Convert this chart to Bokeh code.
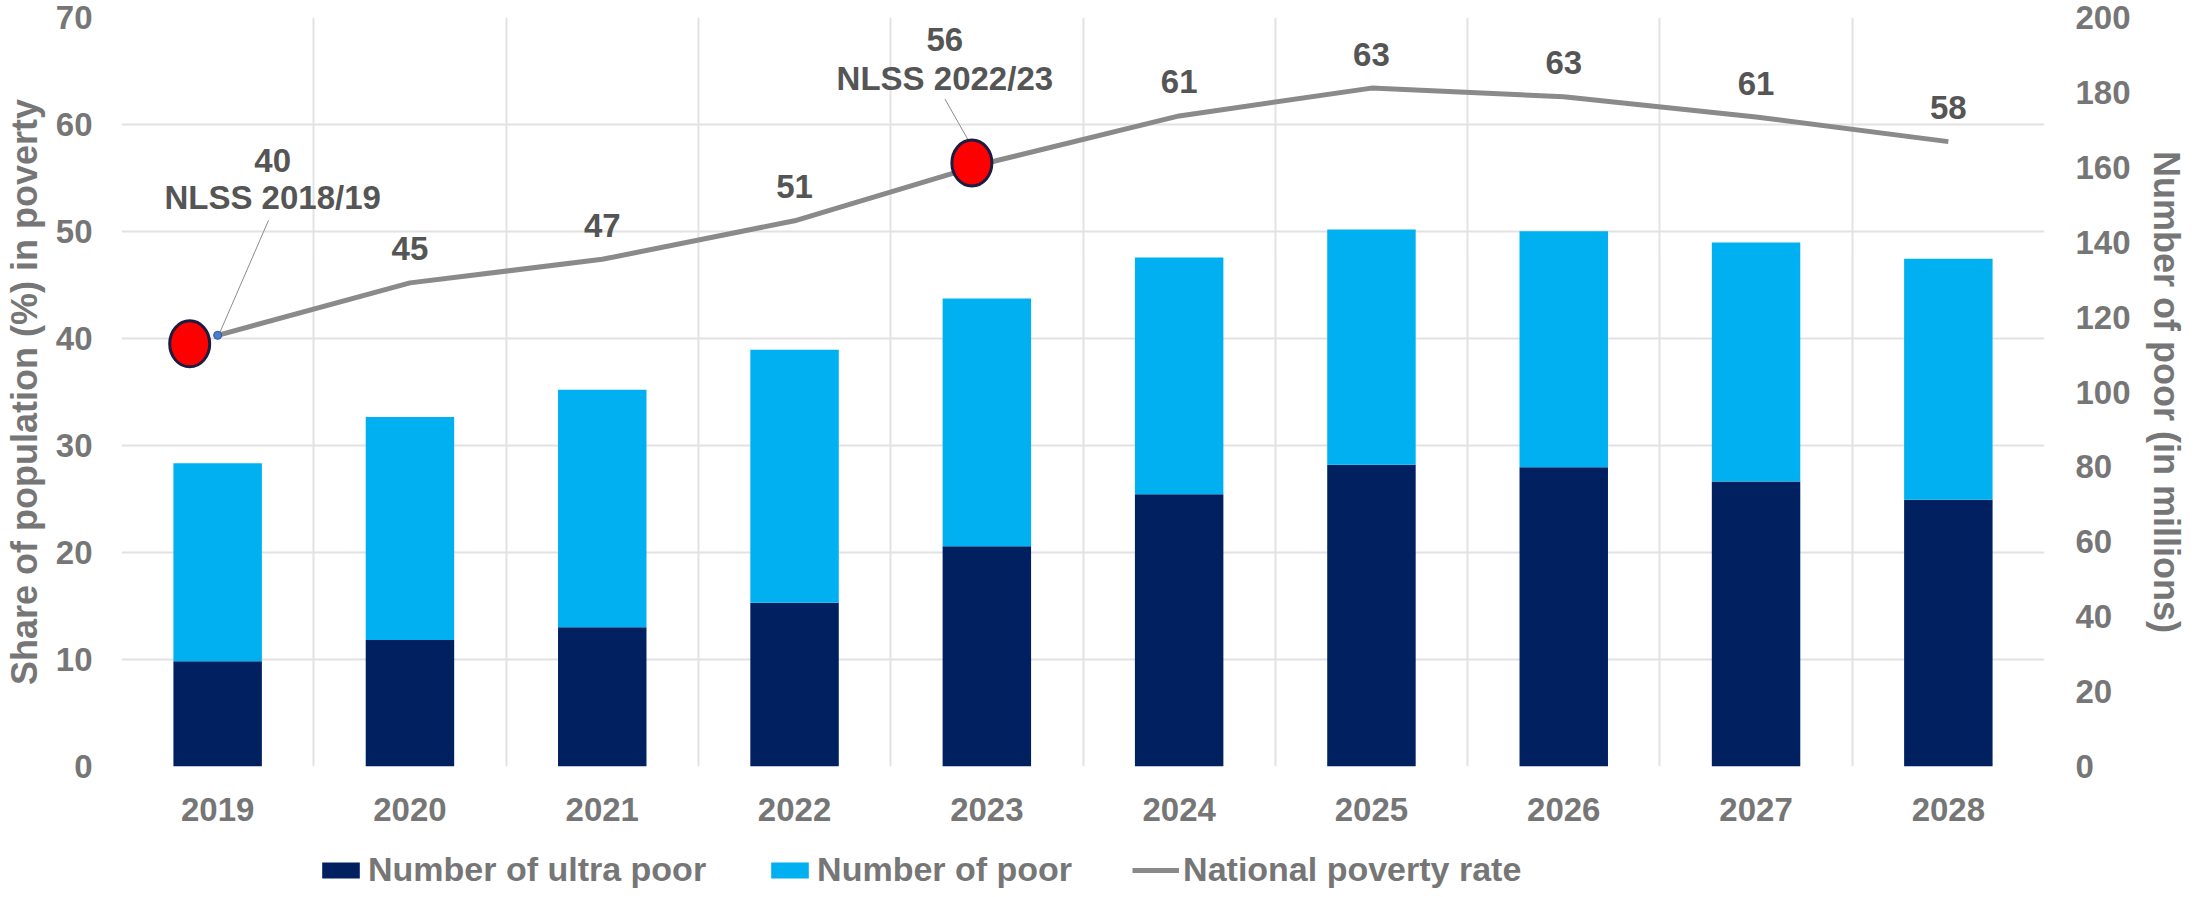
from bokeh.plotting import figure
from bokeh.layouts import column
from bokeh.models import (Range1d, LinearAxis, FixedTicker, Legend, LegendItem,
                          ColumnDataSource)
from bokeh.embed import file_html
from bokeh.resources import INLINE
from bokeh.core.properties import value

# ---------------- data ----------------
years = ["2019", "2020", "2021", "2022", "2023", "2024", "2025", "2026", "2027", "2028"]
ultra_poor_m = [28.1, 33.8, 37.2, 43.7, 58.8, 72.7, 80.6, 79.9, 76.1, 71.2]      # millions
total_poor_m = [81.0, 93.3, 100.6, 111.3, 125.0, 135.9, 143.4, 142.9, 139.9, 135.6]  # millions
poverty_rate = [40.3, 45.2, 47.4, 51.0, 56.4, 60.8, 63.4, 62.6, 60.7, 58.4]      # percent
nlss_years = ["2019", "2023"]
nlss_names = ["NLSS 2018/19", "NLSS 2022/23"]
nlss_marker_rate = [39.5, 56.4]
series_names = ["Number of ultra poor", "Number of poor", "National poverty rate"]

left_ticks = [0, 10, 20, 30, 40, 50, 60, 70]
right_ticks = [0, 20, 40, 60, 80, 100, 120, 140, 160, 180, 200]

# ---------------- style ----------------
FONT = "Liberation Sans"
TICK_COL = "#767676"
LABEL_COL = "#555555"
NAVY = "#002060"
CYAN = "#00B0F0"
LINE_COL = "#8a8a8a"
GRID_COL = "#e2e2e2"

FL, FR, FT, FB = 117, 147, 17, 80
FW, FH = 1927, 749
TOTAL_W = FL + FW + FR
MAIN_H = FT + FH + FB
LEG_H = 889 - MAIN_H
px_x = FW / len(years)
px_y = FH / 70.0

xs = [i + 0.5 for i in range(len(years))]

src = ColumnDataSource(dict(x=xs, ultra=ultra_poor_m, total=total_poor_m, rate=poverty_rate))

idx_n = [years.index(y) for y in nlss_years]
lbl_idx = [i for i in range(len(years)) if years[i] not in nlss_years]
lbl_src = ColumnDataSource(dict(
    x=[xs[i] for i in lbl_idx],
    y=[poverty_rate[i] for i in lbl_idx],
    t=[f"{poverty_rate[i]:.0f}" for i in lbl_idx],
))

# label offsets (screen px) for the survey annotations
nlss_dx = [55, -42]
val_dy = [-175, -124]
name_dy = [-138, -85]
marker_dx_px = [-28, -15]
leader_start = [(51, -115), (-42, -64)]
leader_end = [(1, 0), (-17, -20)]

nx = [xs[i] for i in idx_n]
ny = [poverty_rate[i] for i in idx_n]
nlss_src = ColumnDataSource(dict(
    x=nx, y=ny,
    val=[f"{poverty_rate[i]:.0f}" for i in idx_n],
    name=nlss_names,
    dx=nlss_dx, dyv=val_dy, dyn=name_dy,
    mx=[nx[k] + marker_dx_px[k] / px_x for k in range(len(nx))],
    my=nlss_marker_rate,
    x0=[nx[k] + leader_start[k][0] / px_x for k in range(len(nx))],
    y0=[ny[k] - leader_start[k][1] / px_y for k in range(len(nx))],
    x1=[nx[k] + leader_end[k][0] / px_x for k in range(len(nx))],
    y1=[ny[k] - leader_end[k][1] / px_y for k in range(len(nx))],
))

p = figure(width=TOTAL_W, height=MAIN_H,
           x_range=Range1d(0, len(years)), y_range=Range1d(0, 70),
           output_backend="svg", toolbar_location=None,
           min_border_left=FL, min_border_right=FR, min_border_top=FT, min_border_bottom=FB)
p.background_fill_color = "white"
p.border_fill_color = "white"
p.outline_line_color = None

p.extra_y_ranges = {"num": Range1d(0, 200)}


def style_axis(ax, standoff):
    ax.axis_line_color = None
    ax.major_tick_line_color = None
    ax.minor_tick_line_color = None
    ax.major_tick_out = 0
    ax.major_tick_in = 0
    ax.minor_tick_out = 0
    ax.minor_tick_in = 0
    ax.major_label_text_font = FONT
    ax.major_label_text_font_style = "bold"
    ax.major_label_text_font_size = "33px"
    ax.major_label_text_color = TICK_COL
    ax.major_label_standoff = standoff
    ax.axis_label_text_font = FONT
    ax.axis_label_text_font_style = "bold"
    ax.axis_label_text_font_size = "36px"
    ax.axis_label_text_color = TICK_COL


left = p.yaxis[0]
left.ticker = FixedTicker(ticks=left_ticks)
left.axis_label = "Share of population (%) in poverty"
style_axis(left, 29)
left.axis_label_standoff = 8

right = LinearAxis(y_range_name="num", ticker=FixedTicker(ticks=right_ticks),
                   axis_label="Number of poor (in millions)")
style_axis(right, 31)
right.axis_label_standoff = 12
p.add_layout(right, "right")

bottom = p.xaxis[0]
bottom.ticker = FixedTicker(ticks=xs)
bottom.major_label_overrides = {x: y for x, y in zip(xs, years)}
style_axis(bottom, 31)

p.xgrid.ticker = FixedTicker(ticks=list(range(0, len(years) + 1)))
p.ygrid.ticker = FixedTicker(ticks=left_ticks)
for g in (p.xgrid, p.ygrid):
    g.grid_line_color = GRID_COL
    g.grid_line_width = 2

# bars (right axis)
p.vbar(x="x", top="ultra", bottom=0, width=0.46, fill_color=NAVY, line_color=None,
       y_range_name="num", source=src)
p.vbar(x="x", top="total", bottom="ultra", width=0.46, fill_color=CYAN, line_color=None,
       y_range_name="num", source=src)

# national poverty rate (left axis)
p.line(x="x", y="rate", line_width=5, line_color=LINE_COL, source=src)

# value labels
p.text(x="x", y="y", text="t", source=lbl_src, text_align="center", text_baseline="middle",
       y_offset=-34, text_font=value(FONT), text_font_style="bold", text_font_size="33px",
       text_color=LABEL_COL)

# survey annotations
p.segment(x0="x0", y0="y0", x1="x1", y1="y1", source=nlss_src, line_color="#8c8c8c", line_width=1)
p.scatter(x="x", y="y", source=nlss_src, size=8, fill_color="#4a7fd0", line_color="#2f5597",
          line_width=1)
p.ellipse(x="mx", y="my", width=40, height=46, width_units="screen", height_units="screen",
          source=nlss_src, fill_color="#FF0000", line_color="#1c1c40", line_width=3)
p.text(x="x", y="y", text="val", source=nlss_src, x_offset="dx", y_offset="dyv",
       text_align="center", text_baseline="middle", text_font=value(FONT),
       text_font_style="bold", text_font_size="33px", text_color=LABEL_COL)
p.text(x="x", y="y", text="name", source=nlss_src, x_offset="dx", y_offset="dyn",
       text_align="center", text_baseline="middle", text_font=value(FONT),
       text_font_style="bold", text_font_size="33px", text_color=LABEL_COL)

# ---------------- legend strip (separate figure below, same side borders) ----------------
lg = figure(width=TOTAL_W, height=LEG_H, x_range=Range1d(0, 1), y_range=Range1d(0, 1),
            output_backend="svg", toolbar_location=None,
            min_border_left=FL, min_border_right=FR, min_border_top=0, min_border_bottom=0,
            x_axis_location=None, y_axis_location=None)
lg.grid.visible = False
lg.outline_line_color = None
lg.background_fill_color = "white"
lg.border_fill_color = "white"
# swatch renderers: their geometry lies far below the strip, so only the legend shows
swatch = ColumnDataSource(dict(x=[0.5, 0.6], top=[-50, -50], bottom=[-60, -60], y=[-50, -50]))
k_ultra = lg.vbar(x="x", top="top", bottom="bottom", width=0.1, fill_color=NAVY,
                  line_color=None, source=swatch)
k_poor = lg.vbar(x="x", top="top", bottom="bottom", width=0.1, fill_color=CYAN,
                 line_color=None, source=swatch)
k_line = lg.line(x="x", y="y", line_width=5, line_color=LINE_COL, source=swatch)

legend = Legend(items=[LegendItem(label=series_names[0], renderers=[k_ultra]),
                       LegendItem(label=series_names[1], renderers=[k_poor]),
                       LegendItem(label=series_names[2], renderers=[k_line])],
                location=(196, 0), orientation="horizontal", glyph_width=47, glyph_height=20,
                label_standoff=4, padding=0, margin=0, spacing=60, border_line_color=None,
                background_fill_alpha=0, label_text_font=FONT, label_text_font_style="bold",
                label_text_font_size="34px", label_text_color=TICK_COL)
lg.add_layout(legend, "center")

layout = column(p, lg, spacing=0)
open("out.html", "w").write(file_html(layout, INLINE))
